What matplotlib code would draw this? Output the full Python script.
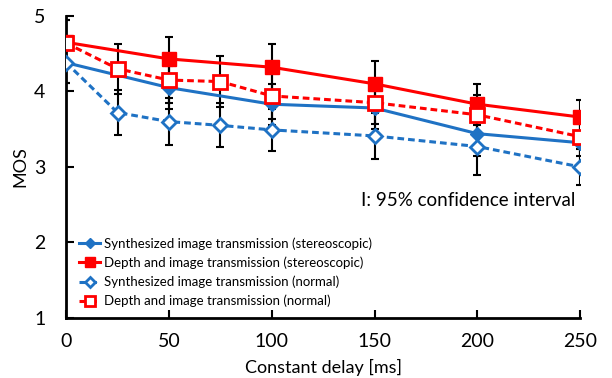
import matplotlib.pyplot as plt

plt.rcParams['font.family'] = ['Lato', 'DejaVu Sans']

# delays [ms]
delay_full = [0, 50, 100, 150, 200, 250]
delay_norm = [0, 25, 50, 75, 100, 150, 200, 250]

# MOS values
synth_stereo = [4.38, 4.05, 3.83, 3.78, 3.44, 3.32]
depth_stereo = [4.65, 4.43, 4.32, 4.10, 3.83, 3.66]
synth_normal = [4.38, 3.72, 3.60, 3.55, 3.49, 3.41, 3.27, 3.00]
depth_normal = [4.64, 4.30, 4.15, 4.13, 3.94, 3.85, 3.69, 3.40]

# 95% confidence intervals
synth_stereo_ci = [0.27, 0.28, 0.27, 0.28, 0.30, 0.28]
depth_stereo_ci = [0.30, 0.29, 0.31, 0.30, 0.27, 0.23]
synth_normal_ci = [0.27, 0.30, 0.31, 0.29, 0.28, 0.30, 0.38, 0.24]
depth_normal_ci = [0.30, 0.33, 0.30, 0.34, 0.30, 0.28, 0.26, 0.25]

blue = '#1f72c4'
red = '#ff0000'

fig = plt.figure(figsize=(6.12, 3.78), dpi=100)
ax = fig.add_axes([0.108, 0.159, 0.84, 0.799])

eb = dict(fmt='none', ecolor='black', elinewidth=1.5, capsize=3, capthick=1.5, zorder=2)
ax.errorbar(delay_full, synth_stereo, yerr=synth_stereo_ci, **eb)
ax.errorbar(delay_full, depth_stereo, yerr=depth_stereo_ci, **eb)
ax.errorbar(delay_norm, synth_normal, yerr=synth_normal_ci, **eb)
ax.errorbar(delay_norm, depth_normal, yerr=depth_normal_ci, **eb)

ax.plot(delay_full, synth_stereo, '-', color=blue, lw=2.2, marker='D', ms=7,
        mfc=blue, mec=blue, label='Synthesized image transmission (stereoscopic)', zorder=3)
ax.plot(delay_full, depth_stereo, '-', color=red, lw=2.2, marker='s', ms=10,
        mfc=red, mec=red, label='Depth and image transmission (stereoscopic)', zorder=3)
ax.plot(delay_norm, synth_normal, '--', color=blue, lw=2.2, marker='D', ms=7, dashes=(2.2, 1.3),
        mfc='white', mec=blue, mew=2, label='Synthesized image transmission (normal)', zorder=4)
ax.plot(delay_norm, depth_normal, '--', color=red, lw=2.2, marker='s', ms=10, dashes=(2.2, 1.3),
        mfc='white', mec=red, mew=2, label='Depth and image transmission (normal)', zorder=4)

ax.set_xlim(0, 250)
ax.set_ylim(1, 5)
ax.set_xticks([0, 50, 100, 150, 200, 250])
ax.set_yticks([1, 2, 3, 4, 5])
ax.spines['top'].set_visible(False)
ax.spines['right'].set_visible(False)
ax.spines['left'].set_linewidth(2)
ax.spines['bottom'].set_linewidth(2)
ax.tick_params(direction='in', length=6, width=1.5, labelsize=14)
ax.tick_params(axis='y', pad=15)
ax.tick_params(axis='x', pad=11)
ax.set_xlabel('Constant delay [ms]', fontsize=13, labelpad=6)
ax.set_ylabel('MOS', fontsize=13, labelpad=4)

ax.text(0.99, 0.39, 'I: 95% confidence interval', transform=ax.transAxes,
        ha='right', va='center', fontsize=13.5)

ax.legend(loc='lower left', bbox_to_anchor=(0.005, 0.0), frameon=False, fontsize=9.5,
          handlelength=1.6, handletextpad=0.3, labelspacing=0.5, markerscale=0.7,
          borderaxespad=0.4)

plt.savefig('out.png', dpi=100)
